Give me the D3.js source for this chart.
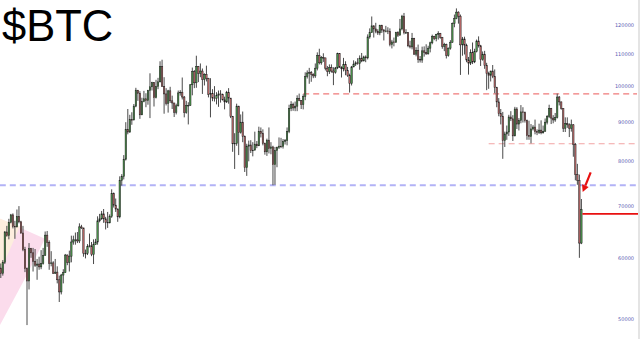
<!DOCTYPE html>
<meta charset="utf-8">
<title>$BTC</title>
<style>
body { margin: 0; background: #fff; }
.title { font-family: "Liberation Sans", Arial, sans-serif; font-size: 43.5px; fill: #000; }
.tick-label { font-family: "DejaVu Sans", sans-serif; font-size: 5px; fill: #5a5ab4; }
.wick { stroke: #4a4a4a; stroke-width: 1px; }
.body { stroke: #1c1c1c; stroke-width: 0.5px; }
</style>
<body>
<script src="https://cdnjs.cloudflare.com/ajax/libs/d3/7.8.5/d3.min.js"></script>
<script>

// 2-day candles, prices in thousands of USD
var firstOpen = 58.2;

var closes = [
  57.3, 59.2, 64.8, 64.1, 66.7, 68.2, 65.9, 65.8, 67.9, 66.8, 64.6,
  61.5, 58.1, 56.0, 61.7, 60.9, 59.4, 58.7, 58.9, 58.4, 59.0, 60.4, 64.2, 62.8, 59.0, 59.1, 57.3,
  57.5, 56.2, 54.2, 57.0, 57.4, 60.5, 59.2, 60.3, 62.9, 63.3, 63.3, 63.1, 65.8, 65.6, 60.8,
  60.8, 62.1, 62.2, 60.6, 62.4, 62.9, 67.0, 67.4, 68.4, 67.4, 66.7, 66.6, 67.9, 72.7, 70.2,
  69.4, 67.8, 75.6, 76.5, 80.5, 88.0, 87.3, 90.6, 90.5, 94.3, 98.9, 98.0, 91.9, 95.6, 96.4,
  95.9, 98.8, 99.9, 101.2, 96.7, 100.0, 101.4, 106.1, 100.0, 97.8, 95.1, 98.7, 95.8, 95.2, 92.6, 94.4,
  98.1, 98.3, 96.9, 92.5, 94.5, 94.5, 100.5, 104.5, 101.1, 106.1, 104.0, 104.7, 102.1, 103.7, 102.4,
  97.7, 97.9, 96.6, 96.5, 97.4, 97.8, 97.6, 96.1, 95.5, 98.3, 96.6, 91.5, 84.3, 84.4,
  94.3, 87.2, 89.9, 86.2, 78.5, 83.7, 84.0, 82.6, 82.7, 84.2, 83.8, 87.5, 86.9, 84.4, 82.3, 85.2,
  83.1, 83.5, 79.2, 82.6, 83.4, 83.7, 83.6, 84.9, 85.1, 87.5, 93.7, 94.7, 93.8, 94.3, 96.5,
  95.9, 94.7, 97.0, 103.0, 104.1, 104.2, 103.7, 103.2, 105.6, 109.7, 107.3, 109.0, 108.9, 105.6, 104.6,
  105.8, 104.7, 104.3, 105.7, 110.3, 105.9, 105.4, 106.8, 104.9, 103.3, 100.9, 106.0, 106.9, 107.3, 107.1,
  108.8, 107.9, 109.2, 108.9, 115.9, 117.4, 119.8, 118.7, 117.9, 117.3, 120.0, 118.3, 117.9, 118.0, 117.8, 113.3,
  114.2, 114.1, 117.5, 116.5, 118.7, 123.3, 117.4, 117.4, 112.9, 112.5, 115.4, 110.1, 111.3, 108.4, 108.2,
  111.2, 110.7, 110.2, 112.1, 113.9, 116.1, 115.3, 116.8, 117.1, 115.7, 112.7, 113.3, 109.7, 112.1, 114.1,
  120.6, 122.4, 124.8, 123.3, 113.2, 115.2, 113.1, 108.2, 107.2, 110.6, 107.6, 111.0, 114.5, 112.9, 108.3, 110.1,
  106.5, 103.9, 103.4, 104.7, 103.0, 99.7, 95.5, 92.2, 91.5, 85.1, 86.8, 87.3, 91.3, 90.8, 86.3,
  93.5, 89.4, 90.4, 92.7, 92.5, 90.3, 86.4, 86.1, 88.1, 88.6, 87.4, 87.2, 87.8, 87.1, 87.5,
  89.9, 91.4, 93.7, 91.0, 90.5, 91.2, 96.9, 95.5, 93.6, 88.3, 89.5, 89.2, 88.3, 89.2, 84.1, 76.9, 75.6, 62.7, 69.3
];

var highs = [
  59.0, 59.6, 65.0, 66.0, 67.4, 68.4, 68.5, 67.0, 69.3, 70.0, 67.0,
  66.0, 62.0, 58.3, 62.7, 61.8, 61.8, 61.6, 59.8, 60.2, 61.4, 61.8, 64.9, 65.0, 63.2, 61.2, 59.4,
  59.8, 58.5, 56.9, 57.2, 58.0, 60.7, 60.6, 61.3, 64.1, 64.1, 64.7, 64.8, 66.5, 66.2, 65.6,
  61.5, 62.5, 64.5, 62.9, 63.4, 63.5, 67.9, 68.4, 69.0, 69.4, 67.8, 68.8, 68.3, 73.6, 72.9,
  71.6, 69.5, 76.5, 77.0, 81.5, 89.9, 93.5, 91.9, 92.6, 94.9, 99.6, 98.8, 98.6, 96.7, 98.7,
  98.0, 99.0, 104.0, 101.4, 101.3, 102.0, 102.6, 107.8, 108.3, 102.8, 99.5, 99.0, 99.9, 97.3, 95.2, 95.0,
  98.8, 98.9, 102.7, 97.2, 95.8, 95.4, 100.7, 105.8, 105.0, 109.6, 106.3, 107.1, 105.5, 104.0, 106.4,
  102.6, 102.5, 99.2, 100.1, 98.3, 98.8, 98.9, 97.9, 97.0, 98.7, 99.5, 96.5, 91.6, 87.0,
  95.0, 94.4, 92.0, 92.8, 86.4, 84.3, 85.1, 85.2, 84.7, 87.4, 85.0, 88.7, 88.5, 88.0, 84.6, 85.6,
  88.5, 84.7, 83.8, 83.5, 83.6, 85.9, 85.8, 85.5, 85.5, 88.5, 94.7, 95.7, 95.3, 95.6, 97.4,
  97.9, 96.0, 97.7, 104.3, 104.9, 105.7, 104.7, 104.0, 107.1, 110.7, 111.9, 109.5, 110.4, 108.9, 106.3,
  106.8, 106.8, 105.9, 106.0, 110.6, 110.4, 106.2, 108.9, 107.8, 106.0, 103.9, 106.3, 108.1, 107.8, 108.8,
  109.7, 110.5, 109.6, 109.7, 116.8, 118.9, 123.2, 120.0, 120.9, 118.6, 120.2, 120.2, 118.7, 119.8, 119.3, 118.9,
  114.9, 115.7, 117.7, 117.9, 122.3, 123.8, 124.5, 118.6, 117.6, 114.6, 117.3, 115.6, 112.4, 113.3, 109.5,
  112.6, 112.7, 113.4, 112.9, 114.3, 116.7, 116.3, 117.0, 117.9, 117.3, 115.9, 113.9, 113.6, 112.3, 114.8,
  121.0, 123.9, 126.2, 125.1, 123.9, 115.9, 116.0, 113.6, 109.2, 111.7, 114.0, 111.9, 115.0, 116.1, 113.2, 111.0,
  111.2, 107.3, 104.5, 104.8, 106.6, 105.2, 99.9, 96.6, 93.5, 92.7, 87.4, 89.0, 91.9, 92.9, 91.8,
  94.1, 94.0, 91.0, 94.6, 94.0, 92.8, 90.6, 90.3, 89.4, 89.1, 90.6, 88.0, 89.5, 90.4, 89.0,
  90.9, 91.8, 94.7, 93.8, 91.8, 92.4, 97.9, 97.2, 95.6, 93.7, 91.2, 91.2, 89.6, 90.6, 89.4, 84.5, 79.4, 76.9, 71.5
];

var lows = [
  56.5, 56.9, 58.9, 63.9, 63.4, 66.5, 65.5, 63.5, 65.7, 66.5, 64.5,
  61.2, 57.5, 49.1, 54.6, 60.0, 57.6, 58.4, 56.2, 57.9, 58.0, 58.8, 60.4, 62.0, 57.9, 58.5, 57.2,
  57.2, 55.6, 52.6, 53.8, 55.6, 57.4, 58.7, 57.6, 59.2, 62.4, 62.4, 62.7, 62.7, 65.4, 60.2,
  59.9, 60.5, 61.9, 60.3, 58.9, 62.4, 62.4, 66.7, 67.2, 66.6, 65.3, 65.6, 66.5, 67.6, 69.7,
  68.8, 66.8, 67.5, 74.4, 75.8, 80.2, 86.7, 87.1, 89.2, 90.4, 94.0, 95.8, 90.8, 91.8, 95.4,
  94.0, 94.7, 91.0, 98.8, 94.2, 96.5, 99.2, 101.2, 99.9, 92.2, 94.5, 92.5, 95.2, 93.5, 91.3, 92.0,
  94.2, 97.3, 96.2, 91.2, 92.2, 89.3, 94.4, 97.4, 99.5, 99.6, 101.3, 102.8, 97.8, 100.3, 101.5,
  96.8, 91.2, 95.7, 95.6, 94.8, 94.1, 95.3, 95.9, 93.4, 95.2, 95.0, 91.0, 82.3, 78.2,
  83.8, 81.5, 86.9, 84.7, 77.5, 76.6, 80.0, 82.0, 81.2, 83.7, 83.2, 83.7, 85.9, 83.9, 81.6, 81.3,
  81.9, 81.7, 74.5, 74.6, 78.6, 83.0, 83.2, 83.1, 84.1, 83.9, 87.0, 92.9, 93.0, 92.9, 92.9,
  95.7, 93.5, 93.4, 96.0, 102.4, 100.8, 101.4, 102.5, 102.6, 104.9, 106.8, 106.7, 107.6, 104.9, 103.1,
  103.8, 104.2, 100.4, 103.9, 105.3, 105.7, 102.7, 104.6, 103.4, 102.9, 98.2, 100.3, 105.9, 106.3, 106.7,
  105.1, 107.5, 107.8, 107.5, 108.4, 115.3, 117.3, 115.7, 117.2, 116.6, 116.5, 117.3, 114.7, 117.5, 116.9, 112.7,
  112.0, 112.7, 113.9, 115.9, 116.5, 118.2, 116.8, 117.1, 112.4, 112.0, 111.7, 109.9, 109.4, 107.3, 107.4,
  107.3, 109.3, 109.9, 110.0, 110.7, 113.4, 114.8, 114.4, 115.0, 115.3, 111.9, 111.1, 108.7, 109.3, 111.6,
  113.9, 119.3, 122.2, 120.6, 103.5, 109.6, 110.0, 107.5, 103.6, 106.6, 106.9, 107.2, 110.7, 112.3, 106.3, 108.0,
  105.4, 98.9, 99.3, 101.5, 102.5, 98.0, 94.0, 91.5, 89.3, 80.6, 83.5, 85.3, 86.3, 90.2, 85.0,
  86.2, 88.1, 87.7, 89.6, 89.8, 89.8, 85.3, 85.3, 84.4, 87.7, 86.7, 86.5, 86.8, 86.7, 86.9,
  87.4, 89.3, 91.0, 89.4, 89.6, 90.0, 90.9, 94.5, 93.3, 87.3, 87.3, 88.4, 86.0, 87.4, 81.1, 75.6, 74.6, 60.0, 62.5
];

var tickValues = [50000, 60000, 70000, 80000, 90000, 100000, 110000, 120000];

// horizontal levels (price, first candle index)
var blueLevel = {price: 74500, from: 0};
var redLevel = {price: 97800, from: 150};
var pinkLevel = {price: 84300, from: 242};
var lastPrice = 68400;

var width = 640,
    height = 339;

var svg = d3.select("body").append("svg")
    .attr("width", width)
    .attr("height", height);

var candles = closes.map(function(c, i) {
  var o = i == 0 ? firstOpen : closes[i - 1];
  return {i: i, o: o * 1000, c: c * 1000, h: highs[i] * 1000, l: lows[i] * 1000};
});

var x = d3.scaleLinear().domain([0, closes.length - 1]).range([0.8, 581.4]);
var y = d3.scaleLog().domain([50000, 120000]).range([319, 25.3]);

var plotRight = 637;

// wedge drawing on the left
var wedge = [[-0.4, 67400], [21.9, 63500], [12, 56400], [-0.4, 49100]];
var wedgeTop = [[-0.4, 67400], [9.5, 65900], [-0.4, 57500]];
var toPt = function(p) { return [x(p[0]), y(p[1])]; };

svg.append("path")
  .attr("d", d3.line()(wedge.map(toPt)) + "Z")
  .attr("fill", "#fbdcec");
svg.append("path")
  .attr("d", d3.line()(wedgeTop.map(toPt)) + "Z")
  .attr("fill", "#fdeede");

// grey right edge
svg.append("rect")
  .attr("x", 638).attr("y", 0)
  .attr("width", 2).attr("height", height)
  .attr("fill", "#e4e4e4");

// levels
svg.append("line")
  .attr("x1", x(blueLevel.from) - 1).attr("x2", plotRight)
  .attr("y1", y(blueLevel.price)).attr("y2", y(blueLevel.price))
  .attr("stroke", "#b2b2f6").attr("stroke-width", 1.9)
  .attr("stroke-dasharray", "6,4");

svg.append("line")
  .attr("x1", x(redLevel.from)).attr("x2", plotRight)
  .attr("y1", y(redLevel.price)).attr("y2", y(redLevel.price))
  .attr("stroke", "#f07a7a").attr("stroke-width", 1.2)
  .attr("stroke-dasharray", "6,4");

svg.append("line")
  .attr("x1", x(pinkLevel.from)).attr("x2", plotRight)
  .attr("y1", y(pinkLevel.price)).attr("y2", y(pinkLevel.price))
  .attr("stroke", "#f2a4a4").attr("stroke-width", 1.2)
  .attr("stroke-dasharray", "6,4");

// candles
var g = svg.selectAll(".candle")
  .data(candles)
  .enter().append("g").attr("class", "candle");

g.append("line")
  .attr("class", "wick")
  .attr("x1", function(d) { return x(d.i); })
  .attr("x2", function(d) { return x(d.i); })
  .attr("y1", function(d) { return y(Math.max(d.h, d.o, d.c)); })
  .attr("y2", function(d) { return y(Math.min(d.l, d.o, d.c)); });

g.append("rect")
  .attr("class", "body")
  .attr("x", function(d) { return x(d.i) - 0.7; })
  .attr("width", 1.4)
  .attr("y", function(d) { return y(Math.max(d.o, d.c)); })
  .attr("height", function(d) { return Math.max(0.6, y(Math.min(d.o, d.c)) - y(Math.max(d.o, d.c))); })
  .attr("fill", function(d) { return d.c >= d.o ? "#4f9b4f" : "#c26c6c"; });

// last price line
var last = closes.length - 1;
svg.append("line")
  .attr("x1", x(last) + 1).attr("x2", width - 2)
  .attr("y1", y(lastPrice)).attr("y2", y(lastPrice))
  .attr("stroke", "#e81010").attr("stroke-width", 1.8);

// arrow
var tip = [x(last) + 1.3, y(73000)];
var tail = [x(last) + 9.3, y(77400)];
var ang = Math.atan2(tip[1] - tail[1], tip[0] - tail[0]);
var hl = 7, hw = 3.6;
var base = [tip[0] - hl * Math.cos(ang), tip[1] - hl * Math.sin(ang)];
svg.append("line")
  .attr("x1", tail[0]).attr("y1", tail[1])
  .attr("x2", base[0]).attr("y2", base[1])
  .attr("stroke", "#e81010").attr("stroke-width", 2.2);
svg.append("path")
  .attr("d", d3.line()([
    tip,
    [base[0] + hw * Math.sin(ang), base[1] - hw * Math.cos(ang)],
    [base[0] - hw * Math.sin(ang), base[1] + hw * Math.cos(ang)]
  ]) + "Z")
  .attr("fill", "#e81010");

// price labels on the right
svg.selectAll(".tick-label")
  .data(tickValues)
  .enter().append("text")
    .attr("class", "tick-label")
    .attr("x", 634)
    .attr("y", function(d) { return y(d); })
    .attr("dy", "0.35em")
    .attr("text-anchor", "end")
    .text(function(d) { return d; });

// title
svg.append("text")
  .attr("class", "title")
  .attr("x", 2)
  .attr("y", 40.5)
  .text("$BTC");

</script>
</body>
